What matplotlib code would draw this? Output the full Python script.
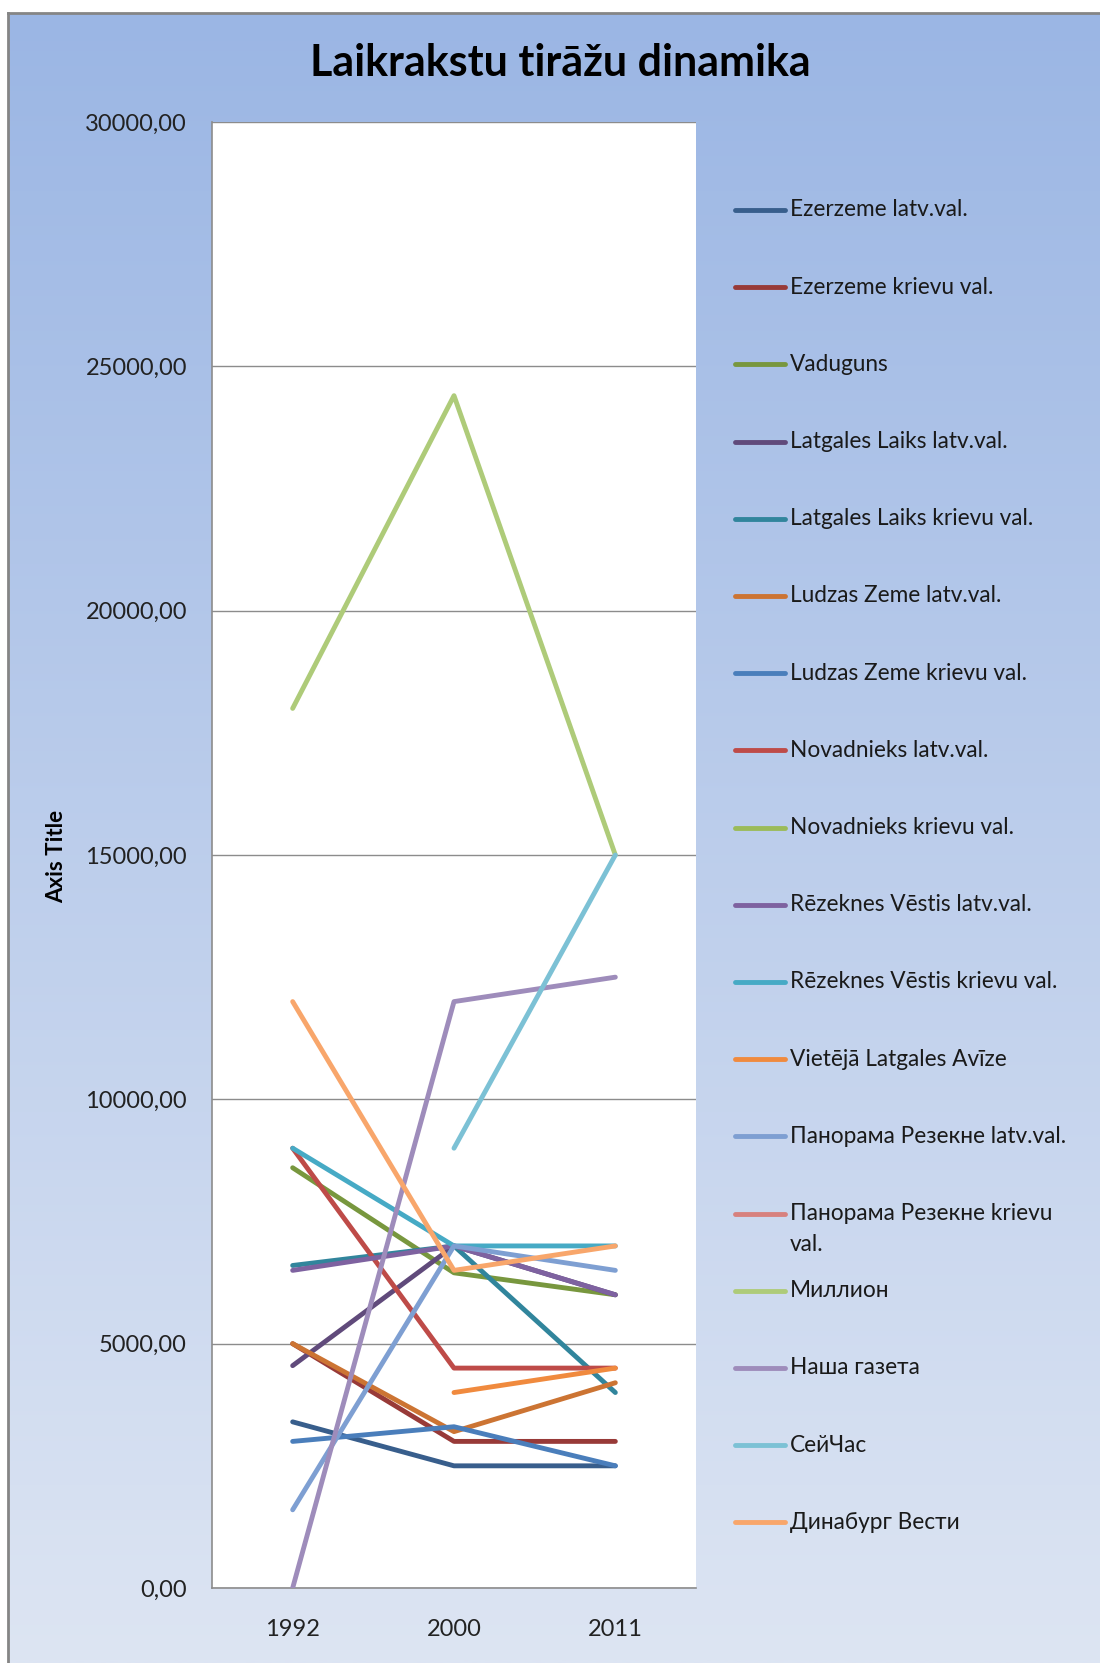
import numpy as np
import matplotlib
matplotlib.use("Agg")
import matplotlib.pyplot as plt
from matplotlib.lines import Line2D

plt.rcParams['font.family'] = ['Lato', 'Open Sans', 'DejaVu Sans']

# ---------------- data ----------------
years = ["1992", "2000", "2011"]
series_names = [
    "Ezerzeme latv.val.",
    "Ezerzeme krievu val.",
    "Vaduguns",
    "Latgales Laiks latv.val.",
    "Latgales Laiks krievu val.",
    "Ludzas Zeme latv.val.",
    "Ludzas Zeme krievu val.",
    "Novadnieks latv.val.",
    "Novadnieks krievu val.",
    "Rēzeknes Vēstis latv.val.",
    "Rēzeknes Vēstis krievu val.",
    "Vietējā Latgales Avīze",
    "Панорама Резекне latv.val.",
    "Панорама Резекне krievu\nval.",
    "Миллион",
    "Наша газета",
    "СейЧас",
    "Динабург Вести",
]
nan = np.nan
ezerzeme_latv = [3400, 2500, 2500]
ezerzeme_kr = [5000, 3000, 3000]
vaduguns = [8600, 6450, 6000]
latgales_laiks_latv = [4550, 7000, 6000]
latgales_laiks_kr = [6600, 7000, 4000]
ludzas_zeme_latv = [5000, 3200, 4200]
ludzas_zeme_kr = [3000, 3300, 2500]
novadnieks_latv = [9000, 4500, 4500]
novadnieks_kr = [nan, nan, nan]
rezeknes_vestis_latv = [6500, 7000, 6000]
rezeknes_vestis_kr = [9000, 7000, 7000]
vieteja_avize = [nan, 4000, 4500]
panorama_latv = [1600, 7000, 6500]
panorama_kr = [nan, nan, nan]
million = [18000, 24400, 15000]
nasha_gazeta = [0, 12000, 12500]
seichas = [nan, 9000, 15000]
dinaburg = [12000, 6500, 7000]

values = [ezerzeme_latv, ezerzeme_kr, vaduguns, latgales_laiks_latv,
          latgales_laiks_kr, ludzas_zeme_latv, ludzas_zeme_kr,
          novadnieks_latv, novadnieks_kr, rezeknes_vestis_latv,
          rezeknes_vestis_kr, vieteja_avize, panorama_latv, panorama_kr,
          million, nasha_gazeta, seichas, dinaburg]

colors = ["#385E8C", "#983A38", "#78973E", "#604A7B", "#31859C", "#CC7433",
          "#4A7EBB", "#BE4B48", "#9BBB59", "#7E62A0", "#46AAC5", "#F08A3E",
          "#7E9FD2", "#D7817E", "#AECB79", "#9E8CBB", "#7CC1D5", "#F8A66B"]

title = "Laikrakstu tirāžu dinamika"
y_title = "Axis Title"

# ---------------- figure ----------------
W, H = 1100, 1663
fig = plt.figure(figsize=(W / 100, H / 100), dpi=100)
fig.patch.set_facecolor("white")

def fx(px):
    return px / W

def fy(py):
    return 1 - py / H

# background gradient frame
bg = fig.add_axes([fx(8), 0, 1 - fx(8), fy(13)])
top = np.array([155, 182, 228]) / 255
bot = np.array([221, 229, 243]) / 255
t = np.linspace(0, 1, 256)[:, None]
grad = (top[None, :] * (1 - t) + bot[None, :] * t)[:, None, :]
bg.imshow(grad, aspect="auto", extent=[0, 1, 0, 1], interpolation="bilinear")
bg.set_xlim(0, 1)
bg.set_ylim(0, 1)
bg.set_xticks([])
bg.set_yticks([])
for s in ["right", "bottom"]:
    bg.spines[s].set_visible(False)
for s in ["left", "top"]:
    bg.spines[s].set_color("#858585")
    bg.spines[s].set_linewidth(2)
bg.set_zorder(0)

# plot area
ax = fig.add_axes([fx(212), fy(1588), fx(696) - fx(212), fy(122) - fy(1588)])
ax.set_facecolor("white")
x = np.arange(len(years))
for name, vals, c in zip(series_names, values, colors):
    ax.plot(x, vals, color=c, lw=3.5, solid_capstyle="round",
            solid_joinstyle="round", zorder=3)

ax.set_xlim(-0.5, 2.5)
ax.set_ylim(0, 30000)
ax.set_yticks(np.arange(0, 30001, 5000))
ax.set_yticklabels([f"{v:.2f}".replace(".", ",") for v in np.arange(0, 30001, 5000)])
ax.set_xticks(x)
ax.set_xticklabels(years)
ax.tick_params(axis="y", length=0, pad=18, labelsize=17, labelcolor="#222222")
ax.tick_params(axis="x", length=0, pad=22, labelsize=17, labelcolor="#222222")
ax.grid(axis="y", color="#8C8C8C", lw=1.0, zorder=1)
ax.set_axisbelow(True)
for s in ["top", "right"]:
    ax.spines[s].set_visible(False)
for s in ["left", "bottom"]:
    ax.spines[s].set_color("#8C8C8C")
    ax.spines[s].set_linewidth(1.2)
ax.set_zorder(2)

# title and axis title
fig.text(fx(560), fy(63), title, ha="center", va="center",
         fontsize=31, fontweight="bold", color="black")
fig.text(fx(57), fy(856), y_title, ha="center", va="center", rotation=90,
         fontsize=16, fontweight="bold", color="black")

# legend (drawn manually to mimic the spacing)
y0, dy = 210, 77.2
for i, (name, c) in enumerate(zip(series_names, colors)):
    yc = y0 + i * dy
    fig.add_artist(Line2D([fx(735), fx(785)], [fy(yc), fy(yc)], color=c,
                          lw=3.5, solid_capstyle="round",
                          transform=fig.transFigure))
    for k, part in enumerate(name.split("\n")):
        fig.text(fx(790), fy(yc + k * 31), part, ha="left", va="center",
                 fontsize=16.3, color="#1a1a1a")

fig.savefig("out.png", dpi=100)
